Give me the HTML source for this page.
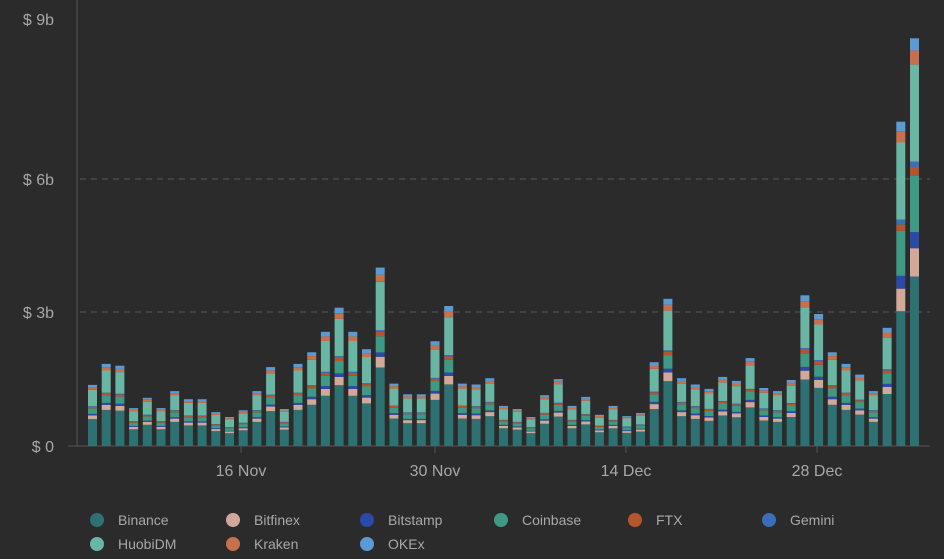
<!DOCTYPE html><html><head><style>body{margin:0;background:#2b2b2b}svg{display:block}text{font-family:"Liberation Sans",sans-serif;fill:#a8a8a8}</style></head><body>
<svg id="s" width="944" height="559" xmlns="http://www.w3.org/2000/svg">
<rect width="944" height="559" fill="#2b2b2b"/>
<g stroke="#5a5a5a" stroke-dasharray="6,5"><line x1="80" x2="930" y1="179" y2="179"/><line x1="80" x2="930" y1="312" y2="312"/></g>
<line x1="77" x2="77" y1="0" y2="446" stroke="#555"/>
<line x1="68" x2="930" y1="446" y2="446" stroke="#555"/>
<g font-size="16" text-anchor="end"><text x="54" y="25">$ 9b</text><text x="54" y="185">$ 6b</text><text x="54" y="318">$ 3b</text><text x="54" y="452">$ 0</text></g>
<g stroke="#555"><line x1="241" x2="241" y1="446" y2="453"/><line x1="435" x2="435" y1="446" y2="453"/><line x1="626" x2="626" y1="446" y2="453"/><line x1="817" x2="817" y1="446" y2="453"/></g>
<g font-size="16" text-anchor="middle"><text x="241" y="476">16 Nov</text><text x="435" y="476">30 Nov</text><text x="626" y="476">14 Dec</text><text x="817" y="476">28 Dec</text></g>
<g id="bars"></g>
<g font-size="14" id="leg"></g>
</svg>
<script>
var T=[1.37,1.84,1.8,.85,1.08,.85,1.23,1.05,1.05,.76,.65,.8,1.23,1.77,.83,1.84,2.1,2.56,3.1,2.56,2.17,4.0,1.4,1.16,1.16,2.35,3.14,1.4,1.38,1.52,.9,.83,.65,1.14,1.5,.9,1.1,.7,.9,.67,.74,1.88,3.3,1.52,1.38,1.28,1.55,1.46,1.97,1.3,1.23,1.48,3.38,2.96,2.1,1.84,1.6,1.23,2.65,7.2,9.05];
var C=["#2e7173","#d2a898","#2a4aa8","#3f9a85","#b5552e","#3a6fb8","#68b6a3","#c8704e","#5b9bd5"];
var N=["Binance","Bitfinex","Bitstamp","Coinbase","FTX","Gemini","HuobiDM","Kraken","OKEx"];
var P=[.44,.06,.025,.09,.025,.01,.27,.04,.04];
var h="",k=44.6;
T.forEach(function(t,i){var x=88+i*13.7,y=446;P.forEach(function(p,j){var pp=p;if(i>=59){pp=[.42,.07,.04,.14,.02,.015,.24,.035,.03][j]}var hh=t*pp*k;y-=hh;h+='<rect x="'+x.toFixed(1)+'" y="'+y.toFixed(1)+'" width="9" height="'+hh.toFixed(1)+'" fill="'+C[j]+'"/>';});});
document.getElementById("bars").innerHTML=h;
var l="",cx=[97,233,367,501,635,769];
N.forEach(function(n,i){var r=i<6?0:1,c=i<6?i:i-6,x=cx[c],y=r?544:520;l+='<circle cx="'+x+'" cy="'+y+'" r="7" fill="'+C[i]+'"/><text x="'+(x+21)+'" y="'+(y+5)+'">'+n+'</text>';});
document.getElementById("leg").innerHTML=l;
</script>
</body></html>
